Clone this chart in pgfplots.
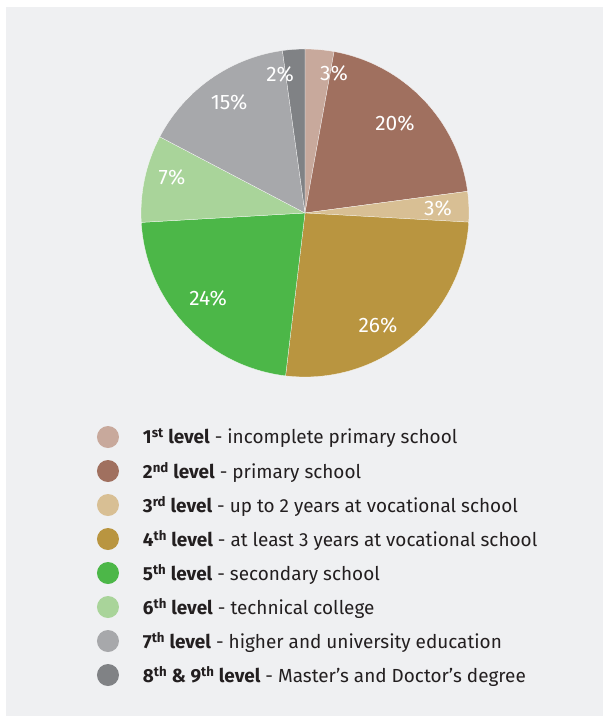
\documentclass[border=0pt]{standalone}
\usepackage{pgfplots}
\usepackage{pgfplotstable}
\pgfplotsset{compat=1.18}
\usepackage{fontspec}
\setmainfont{Fira Sans}

\definecolor{c0}{HTML}{C8A99C}
\definecolor{c1}{HTML}{A0705F}
\definecolor{c2}{HTML}{D8BF94}
\definecolor{c3}{HTML}{B99540}
\definecolor{c4}{HTML}{4CB748}
\definecolor{c5}{HTML}{A9D49A}
\definecolor{c6}{HTML}{A7A8AB}
\definecolor{c7}{HTML}{808285}
\definecolor{bg}{HTML}{EFF0F2}
\definecolor{txt}{HTML}{231F20}

% share = slice size as drawn (percent), label = printed percentage,
% lx, ly = label position (in units of the radius)
\pgfplotstableread{
idx share label lx ly
0 2.84 3 0.177 0.854
1 20.05 20 0.549 0.549
2 3.00 3 0.811 0.030
3 26.00 26 0.445 -0.683
4 22.20 24 -0.591 -0.518
5 8.60 7 -0.811 0.220
6 15.11 15 -0.463 0.677
7 2.20 2 -0.152 0.848
}\piedata

\gdef\cum{0}
\pgfplotsforeachungrouped \i in {0,...,7}{%
  \pgfplotstablegetelem{\i}{share}\of\piedata
  \pgfmathsetmacro\a{90-3.6*\cum}%
  \pgfmathsetmacro\newcum{\cum+\pgfplotsretval}%
  \pgfmathsetmacro\b{90-3.6*\newcum}%
  \expandafter\xdef\csname sa\i\endcsname{\a}%
  \expandafter\xdef\csname sb\i\endcsname{\b}%
  \xdef\cum{\newcum}%
  \pgfplotstablegetelem{\i}{label}\of\piedata
  \expandafter\xdef\csname lab\i\endcsname{\pgfplotsretval}%
  \pgfplotstablegetelem{\i}{lx}\of\piedata
  \expandafter\xdef\csname lx\i\endcsname{\pgfplotsretval}%
  \pgfplotstablegetelem{\i}{ly}\of\piedata
  \expandafter\xdef\csname ly\i\endcsname{\pgfplotsretval}%
}

\begin{document}
\begin{tikzpicture}
\begin{axis}[
  x=164bp, y=164bp, scale only axis, hide axis, clip=false,
  xmin=-1.85976, xmax=1.82927, ymin=-3.06707, ymax=1.29878,
  legend style={at={(rel axis cs:0.1603,0.4050)}, anchor=north west,
    draw=none, fill=none, inner sep=0pt, outer sep=0pt,
    font=\fontsize{19}{22}\selectfont, text=txt,
    row sep=12bp, column sep=22bp,
    cells={anchor=west, inner sep=0pt}},
  legend image code/.code={\fill[#1] (0bp,0bp) circle[radius=11bp];},
  legend cell align=left,
]
\fill[white] (rel axis cs:0,0) rectangle (rel axis cs:1,1);
\fill[bg] (rel axis cs:0.00992,0) rectangle (rel axis cs:0.99669,0.99022);

\pgfplotsinvokeforeach{0,...,7}{%
  \fill[c#1, draw=white, line width=0.25bp] (axis cs:0,0) -- ++(\csname sa#1\endcsname:164bp)
    arc[start angle=\csname sa#1\endcsname, end angle=\csname sb#1\endcsname, radius=164bp] -- cycle;
}
\pgfplotsinvokeforeach{0,...,7}{%
  \node[text=white, font=\fontsize{21}{25}\selectfont, inner sep=0pt]
    at (axis cs:\csname lx#1\endcsname,\csname ly#1\endcsname) {\csname lab#1\endcsname\%};
}

\addlegendimage{fill=c0, draw=none}
\addlegendentry{\textbf{1\textsuperscript{st} level} - incomplete primary school}
\addlegendimage{fill=c1, draw=none}
\addlegendentry{\textbf{2\textsuperscript{nd} level} - primary school}
\addlegendimage{fill=c2, draw=none}
\addlegendentry{\textbf{3\textsuperscript{rd} level} - up to 2 years at vocational school}
\addlegendimage{fill=c3, draw=none}
\addlegendentry{\textbf{4\textsuperscript{th} level} - at least 3 years at vocational school}
\addlegendimage{fill=c4, draw=none}
\addlegendentry{\textbf{5\textsuperscript{th} level} - secondary school}
\addlegendimage{fill=c5, draw=none}
\addlegendentry{\textbf{6\textsuperscript{th} level} - technical college}
\addlegendimage{fill=c6, draw=none}
\addlegendentry{\textbf{7\textsuperscript{th} level} - higher and university education}
\addlegendimage{fill=c7, draw=none}
\addlegendentry{\textbf{8\textsuperscript{th} \& 9\textsuperscript{th} level} - Master’s and Doctor’s degree}
\end{axis}
\end{tikzpicture}
\end{document}
